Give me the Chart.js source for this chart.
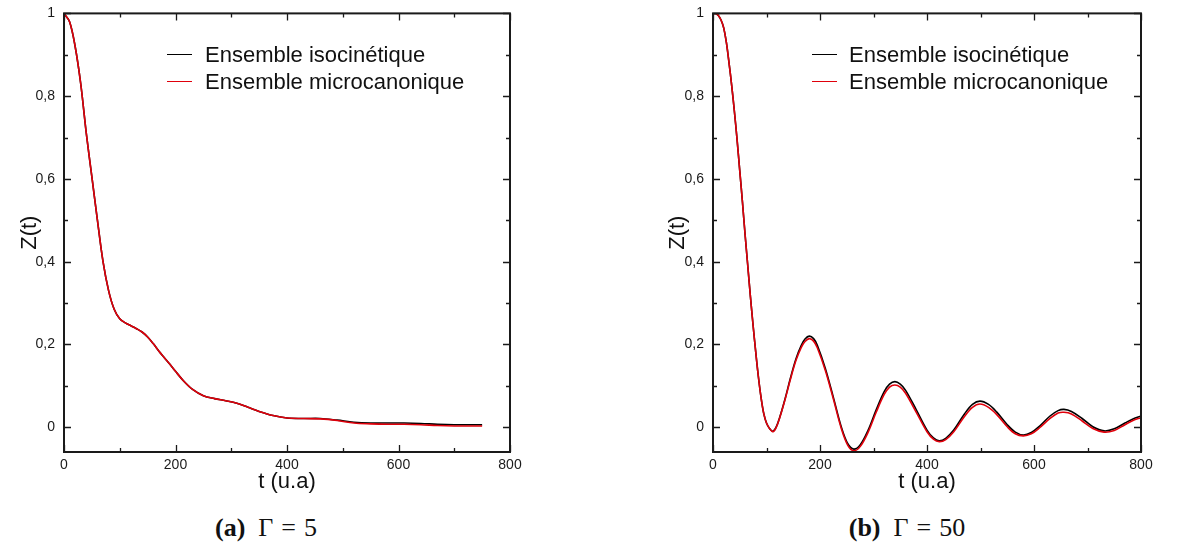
<!DOCTYPE html>
<html>
<head>
<meta charset="utf-8">
<script src="https://cdn.jsdelivr.net/npm/chart.js@4.4.1/dist/chart.umd.min.js"></script>
<style>
  body { margin: 0; background: #fff; width: 1184px; height: 550px; overflow: hidden; position: relative;
         font-family: "Liberation Sans", Arial, sans-serif; }
  .box { position: absolute; top: -4px; height: 504px; }
  .leg { position: absolute; font-size: 22px; line-height: 22px; color: #111; white-space: nowrap; }
  .sw { position: absolute; width: 25px; height: 0; border-top: 1.5px solid; }
  .cap { position: absolute; top: 515px; width: 240px; text-align: center; color: #111;
         font-family: "Liberation Serif", "DejaVu Serif", serif; font-size: 26px; line-height: 26px; }
  .cap b { margin-right: 13px; }
  .cap .eq { margin: 0 8px; }
</style>
</head>
<body>
<div class="box" style="left:0;width:540px"><canvas id="chartA" width="540" height="504"></canvas></div>
<div class="box" style="left:640px;width:531px"><canvas id="chartB" width="531" height="504"></canvas></div>

<div class="sw" style="left:167px;top:54px;border-color:#000"></div>
<div class="sw" style="left:167px;top:81px;border-color:#e0000b"></div>
<div class="leg" id="legA1" style="left:205px;top:44px"></div>
<div class="leg" id="legA2" style="left:205px;top:71px"></div>

<div class="sw" style="left:812px;top:54px;border-color:#000"></div>
<div class="sw" style="left:812px;top:81px;border-color:#e0000b"></div>
<div class="leg" id="legB1" style="left:849px;top:44px"></div>
<div class="leg" id="legB2" style="left:849px;top:71px"></div>

<div class="cap" style="left:146px"><b>(a)</b>Γ<span class="eq">=</span>5</div>
<div class="cap" style="left:787px"><b>(b)</b>Γ<span class="eq">=</span>50</div>

<script>
const seriesNames = ['Ensemble isocinétique', 'Ensemble microcanonique'];

const ticksX = [0, 200, 400, 600, 800];
const labelsX = ['0', '200', '400', '600', '800'];
const minorX = [100, 300, 500, 700];
const ticksY = [0, 0.2, 0.4, 0.6, 0.8, 1];
const labelsY = ['0', '0,2', '0,4', '0,6', '0,8', '1'];
const minorY = [0.1, 0.3, 0.5, 0.7, 0.9];

// (a) Gamma = 5
const tA = [0, 10, 20, 30, 40, 50, 60, 70, 80, 90,
  100, 110, 120, 130, 140, 150, 160, 170, 180, 190, 200,
  215, 230, 250, 270, 290, 310, 330, 350, 375, 400,
  430, 460, 490, 520, 550, 580, 610, 640, 670, 700, 750];
const isoA = [1.0, 0.98, 0.92, 0.83, 0.71, 0.605, 0.50, 0.40, 0.33, 0.285,
  0.262, 0.252, 0.245, 0.238, 0.230, 0.218, 0.202, 0.184, 0.168, 0.152, 0.135,
  0.111, 0.092, 0.076, 0.069, 0.064, 0.058, 0.048, 0.038, 0.028, 0.022,
  0.021, 0.021, 0.017, 0.012, 0.010, 0.010, 0.010, 0.009, 0.007, 0.006, 0.006];
const microA = [1.0, 0.98, 0.92, 0.83, 0.71, 0.605, 0.50, 0.40, 0.33, 0.285,
  0.262, 0.252, 0.245, 0.238, 0.230, 0.218, 0.202, 0.184, 0.168, 0.152, 0.135,
  0.111, 0.092, 0.076, 0.069, 0.064, 0.058, 0.048, 0.038, 0.028, 0.022,
  0.021, 0.020, 0.016, 0.010, 0.008, 0.007, 0.007, 0.006, 0.004, 0.003, 0.003];

// (b) Gamma = 50
const tB = [0, 5, 10, 15, 20, 25, 30, 35, 40, 45, 50, 55, 60, 65, 70, 75, 80, 85, 90, 95,
  100, 106, 112, 118, 125, 135, 145, 155, 165, 172, 180, 188, 195, 210, 225, 240,
  252, 263, 275, 290, 305, 320, 330, 340, 350, 360, 380, 400, 412, 423, 435, 450,
  470, 485, 499, 515, 530, 550, 565, 580, 595, 610, 630, 645, 656, 670, 690, 710,
  731, 750, 770, 785, 800];
const isoB = [1.0, 1.0, 0.995, 0.984, 0.965, 0.93, 0.88, 0.825, 0.763, 0.695, 0.62, 0.545, 0.465, 0.39, 0.315, 0.245, 0.18, 0.12, 0.07, 0.032,
  0.01, -0.004, -0.01, 0.0, 0.025, 0.07, 0.12, 0.165, 0.198, 0.213, 0.22, 0.214, 0.198, 0.142, 0.072, 0.0,
  -0.04, -0.053, -0.043, -0.007, 0.042, 0.086, 0.104, 0.11, 0.104, 0.089, 0.042, -0.007, -0.026, -0.033, -0.027, -0.007,
  0.032, 0.055, 0.063, 0.055, 0.037, 0.006, -0.012, -0.019, -0.013, 0.002, 0.027, 0.04, 0.043, 0.038, 0.021, 0.001,
  -0.009, -0.004, 0.01, 0.02, 0.027];
const microB = [1.0, 1.0, 0.995, 0.984, 0.965, 0.93, 0.88, 0.825, 0.763, 0.695, 0.62, 0.545, 0.465, 0.39, 0.315, 0.245, 0.18, 0.12, 0.07, 0.032,
  0.01, -0.004, -0.011, -0.001, 0.024, 0.068, 0.117, 0.161, 0.193, 0.207, 0.214, 0.208, 0.192, 0.137, 0.068, -0.004,
  -0.044, -0.057, -0.047, -0.012, 0.036, 0.079, 0.097, 0.102, 0.097, 0.082, 0.036, -0.011, -0.029, -0.035, -0.030, -0.011,
  0.026, 0.048, 0.056, 0.048, 0.031, 0.001, -0.016, -0.021, -0.016, -0.002, 0.021, 0.034, 0.036, 0.032, 0.015, -0.003,
  -0.012, -0.008, 0.006, 0.016, 0.023];

document.getElementById('legA1').textContent = seriesNames[0];
document.getElementById('legA2').textContent = seriesNames[1];
document.getElementById('legB1').textContent = seriesNames[0];
document.getElementById('legB2').textContent = seriesNames[1];

// frame round the plot + inward ticks on all four sides
const boxTicks = {
  id: 'boxTicks',
  afterDatasetsDraw(chart) {
    const { ctx, chartArea: a, scales: { x, y } } = chart;
    ctx.save();
    ctx.strokeStyle = '#1a1a1a';
    ctx.lineWidth = 1.3;
    ctx.beginPath();
    const xTick = (v, len) => {
      const px = Math.round(x.getPixelForValue(v)) + 0.5;
      ctx.moveTo(px, a.bottom); ctx.lineTo(px, a.bottom - len);
      ctx.moveTo(px, a.top); ctx.lineTo(px, a.top + len);
    };
    const yTick = (v, len) => {
      const py = Math.round(y.getPixelForValue(v)) + 0.5;
      ctx.moveTo(a.left, py); ctx.lineTo(a.left + len, py);
      ctx.moveTo(a.right, py); ctx.lineTo(a.right - len, py);
    };
    ticksX.forEach(v => xTick(v, 7));
    minorX.forEach(v => xTick(v, 4));
    ticksY.forEach(v => yTick(v, 7));
    minorY.forEach(v => yTick(v, 4));
    ctx.stroke();
    ctx.lineWidth = 2;
    ctx.strokeRect(a.left, a.top, a.right - a.left, a.bottom - a.top);
    ctx.restore();
  }
};

function makeChart(id, t, iso, micro, yWidth, yTitlePad) {
  const ctx = document.getElementById(id).getContext('2d');
  return new Chart(ctx, {
    type: 'line',
    data: {
      datasets: [{
        label: seriesNames[0],
        data: t.map((v, i) => ({ x: v, y: iso[i] })),
        borderColor: '#000',
        order: 1
      }, {
        label: seriesNames[1],
        data: t.map((v, i) => ({ x: v, y: micro[i] })),
        borderColor: '#e0000b',
        order: 0
      }]
    },
    options: {
      responsive: false,
      animation: false,
      layout: { padding: { top: 10, right: 30, bottom: 0, left: 0 } },
      plugins: { legend: { display: false }, tooltip: { enabled: false } },
      elements: {
        point: { radius: 0 },
        line: { borderWidth: 1.6, tension: 0.35 }
      },
      scales: {
        x: {
          type: 'linear', min: 0, max: 800,
          grid: { display: false, drawTicks: false },
          border: { display: false },
          afterBuildTicks: s => { s.ticks = ticksX.map(v => ({ value: v })); },
          afterFit: s => { s.height = 48; },
          ticks: {
            padding: 5, color: '#1a1a1a', maxRotation: 0, autoSkip: false,
            font: { family: '"Liberation Sans", Arial, sans-serif', size: 14 },
            callback: (v, i) => labelsX[i]
          },
          title: {
            display: true, text: 't (u.a)', color: '#111',
            font: { family: '"Liberation Sans", Arial, sans-serif', size: 22, lineHeight: 1 },
            padding: { top: 0, bottom: 7 }
          }
        },
        y: {
          type: 'linear', min: -0.06, max: 1,
          grid: { display: false, drawTicks: false },
          border: { display: false },
          afterBuildTicks: s => { s.ticks = ticksY.map(v => ({ value: v })); },
          afterFit: s => { s.width = yWidth; },
          ticks: {
            padding: 9, color: '#1a1a1a',
            font: { family: '"Liberation Sans", Arial, sans-serif', size: 14 },
            callback: (v, i) => labelsY[i]
          },
          title: {
            display: true, text: 'Z(t)', color: '#111',
            font: { family: '"Liberation Sans", Arial, sans-serif', size: 22, lineHeight: 1 },
            padding: { top: yTitlePad, bottom: 0 }
          }
        }
      }
    },
    plugins: [boxTicks]
  });
}

makeChart('chartA', tA, isoA, microA, 64, 19);
makeChart('chartB', tB, isoB, microB, 73, 27);
</script>
</body>
</html>
